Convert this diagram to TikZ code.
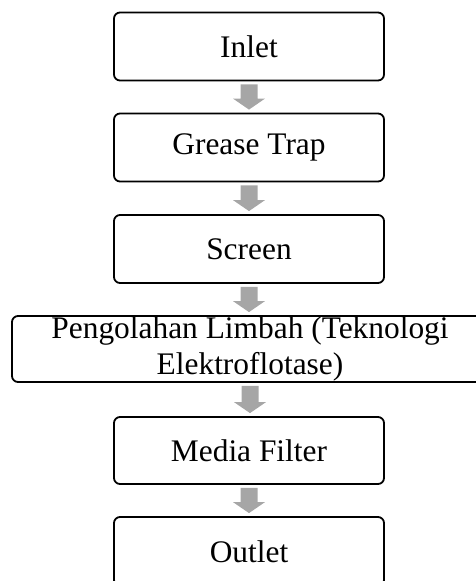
\documentclass[tikz,border=0pt]{standalone}
\usepackage{fontspec}
\setmainfont{Liberation Serif}
\usetikzlibrary{calc}
\tikzset{
  stagebox/.style={draw=black, line width=1.8pt, rounded corners=6pt, fill=white,
    minimum width=270pt, minimum height=68pt, inner sep=0pt, align=center,
    font=\fontsize{31.4}{36}\selectfont},
  widebox/.style={stagebox, minimum width=476pt, minimum height=66pt},
  arrowfill/.style={fill=black!35}
}
\newcommand{\blockarrow}[2]{%
  \fill[arrowfill] ($(#1.south)+(-8.5,3)$) -- ($(#1.south |- #2.north)+(-8.5,-14)$)
    -- ($(#1.south |- #2.north)+(-16,-14)$) -- ($(#1.south |- #2.north)+(0,-3)$)
    -- ($(#1.south |- #2.north)+(16,-14)$) -- ($(#1.south |- #2.north)+(8.5,-14)$)
    -- ($(#1.south)+(8.5,3)$) -- cycle;}
\begin{document}
\begin{tikzpicture}[x=1pt, y=-1pt]
  \useasboundingbox (0,0) rectangle (476,581);
  \clip (0,0) rectangle (476,581);
  \node[stagebox] (inlet) at (249,46.5) {Inlet};
  \node[stagebox] (grease) at (249,147.5) {Grease Trap};
  \node[stagebox] (screen) at (249,249) {Screen};
  \node[widebox] (olah) at (250,349) {Pengolahan Limbah (Teknologi\\Elektroflotase)};
  \node[stagebox, minimum height=67pt] (media) at (249,450.5) {Media Filter};
  \node[stagebox, minimum height=69pt] (outlet) at (249,551.5) {Outlet};
  \blockarrow{inlet}{grease}
  \blockarrow{grease}{screen}
  \blockarrow{screen}{olah}
  \blockarrow{olah}{media}
  \blockarrow{media}{outlet}
\end{tikzpicture}
\end{document}
